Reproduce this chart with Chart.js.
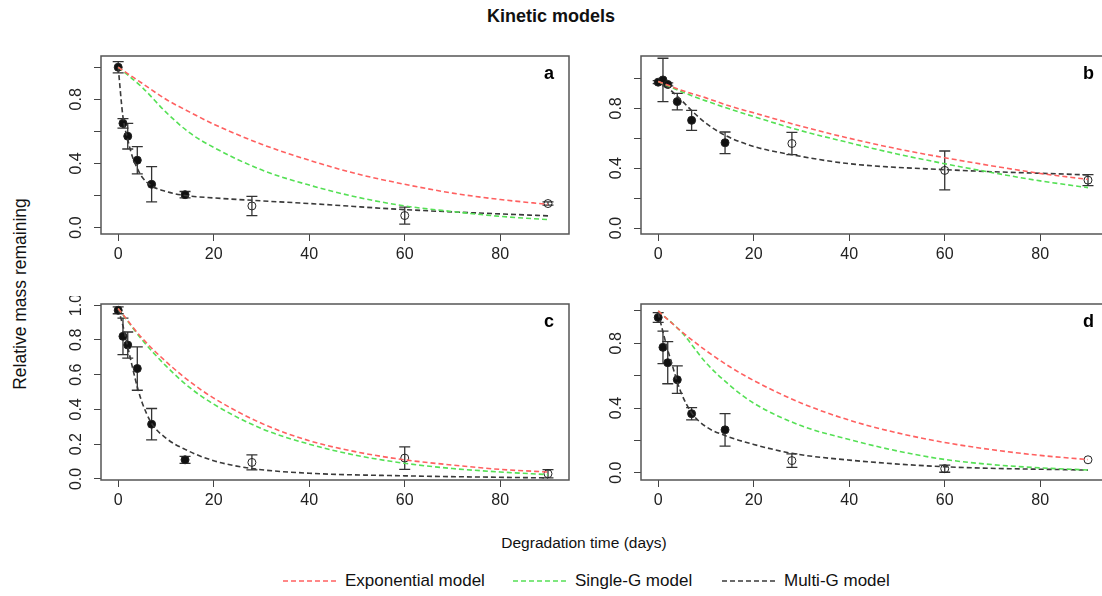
<!DOCTYPE html>
<html>
<head>
<meta charset="utf-8">
<script src="https://cdn.jsdelivr.net/npm/chart.js@4.4.1/dist/chart.umd.min.js"></script>
<style>
  html, body { margin: 0; padding: 0; background: #fff; width: 1102px; height: 596px; overflow: hidden; }
  body { position: relative; font-family: "Liberation Sans", Arial, sans-serif; color: #111; }
  canvas { position: absolute; }
  .txt { position: absolute; white-space: nowrap; transform: translate(-50%, -50%); }
  #title { left: 551px; top: 16px; font-size: 18px; font-weight: bold; }
  #xlab { left: 584px; top: 543px; font-size: 15.5px; }
  #ylab { left: 20px; top: 294px; font-size: 17.5px; transform: translate(-50%, -50%) rotate(-90deg); }
  .leg { position: absolute; top: 571px; height: 20px; display: flex; align-items: center; font-size: 17px; }
  .leg svg { margin-right: 7px; }
</style>
</head>
<body>
<div id="title" class="txt">Kinetic models</div>
<div id="xlab" class="txt">Degradation time (days)</div>
<div id="ylab" class="txt">Relative mass remaining</div>
<div id="legend"></div>

<canvas id="pa"></canvas>
<canvas id="pb"></canvas>
<canvas id="pc"></canvas>
<canvas id="pd"></canvas>

<script>
// observed days and x axis ticks
const obsDays = [0, 1, 2, 4, 7, 14, 28, 60, 90];
const xTicks = [0, 20, 40, 60, 80];
const yTicks = [0, 0.2, 0.4, 0.6, 0.8, 1.0];
const yLabelsSparse = ['0.0', '', '0.4', '', '0.8', ''];
const yLabelsFull = ['0.0', '0.2', '0.4', '0.6', '0.8', '1.0'];

// mean relative mass remaining + error (half bar length)
const obsA = [1.00, 0.65, 0.57, 0.42, 0.27, 0.205, 0.135, 0.075, 0.15];
const errA = [0.035, 0.03, 0.08, 0.085, 0.11, 0.02, 0.06, 0.053, 0.01];
const obsB = [0.975, 0.99, 0.96, 0.845, 0.72, 0.57, 0.565, 0.385, 0.32];
const errB = [0.01, 0.145, 0.01, 0.055, 0.067, 0.072, 0.075, 0.13, 0.037];
const obsC = [0.97, 0.82, 0.77, 0.635, 0.315, 0.11, 0.095, 0.12, 0.03];
const errC = [0.02, 0.105, 0.075, 0.125, 0.09, 0.02, 0.043, 0.065, 0.024];
const obsD = [0.96, 0.775, 0.68, 0.575, 0.365, 0.265, 0.075, 0.025, 0.08];
const errD = [0.03, 0.1, 0.13, 0.085, 0.038, 0.1, 0.042, 0.022, 0];

// fitted curves
const modelDays = [0, 5, 10, 15, 20, 30, 40, 50, 60, 70, 80, 90];
const expA    = [1.00, 0.90, 0.80, 0.72, 0.645, 0.52, 0.42, 0.335, 0.27, 0.215, 0.175, 0.145];
const singleA = [1.00, 0.875, 0.72, 0.59, 0.50, 0.36, 0.265, 0.19, 0.135, 0.10, 0.07, 0.05];
const expB    = [0.98, 0.92, 0.87, 0.815, 0.77, 0.68, 0.60, 0.53, 0.47, 0.415, 0.365, 0.325];
const singleB = [0.98, 0.91, 0.85, 0.795, 0.745, 0.65, 0.57, 0.495, 0.43, 0.37, 0.315, 0.27];
const expC    = [0.98, 0.81, 0.675, 0.56, 0.465, 0.32, 0.22, 0.155, 0.11, 0.08, 0.055, 0.04];
const singleC = [0.98, 0.80, 0.65, 0.525, 0.43, 0.29, 0.20, 0.135, 0.09, 0.06, 0.04, 0.025];
const expD    = [1.00, 0.87, 0.755, 0.655, 0.57, 0.43, 0.325, 0.247, 0.187, 0.142, 0.107, 0.081];
const singleD = [1.00, 0.865, 0.68, 0.54, 0.43, 0.29, 0.205, 0.135, 0.082, 0.05, 0.03, 0.017];

const multiDays = [0, 1, 2, 3, 4, 5, 7, 10, 14, 20, 28, 40, 60, 90];
const multiA = [1.00, 0.69, 0.55, 0.44, 0.37, 0.315, 0.26, 0.225, 0.20, 0.185, 0.17, 0.15, 0.112, 0.073];
const multiB = [0.98, 0.96, 0.94, 0.91, 0.88, 0.85, 0.785, 0.70, 0.62, 0.545, 0.49, 0.43, 0.39, 0.355];
const multiC = [0.98, 0.88, 0.76, 0.64, 0.53, 0.44, 0.32, 0.235, 0.17, 0.105, 0.06, 0.033, 0.018, 0.006];
const multiD = [0.99, 0.87, 0.76, 0.66, 0.56, 0.48, 0.37, 0.285, 0.23, 0.175, 0.12, 0.078, 0.037, 0.016];

const seriesNames = ['Exponential model', 'Single-G model', 'Multi-G model'];
const seriesColors = ['#ff6060', '#55e055', '#3a3a3a'];

const FONT = '"Liberation Sans", Arial, sans-serif';
const Y_AXIS_W = 60, X_AXIS_H = 45, PAD_T = 8, PAD_R = 8;

// error bars, frame and panel letter
const boxPlugin = {
  id: 'rbox',
  beforeDatasetsDraw(chart) {
    const { ctx, scales: { x, y } } = chart;
    const p = chart.options.plugins.rbox;
    ctx.save();
    ctx.strokeStyle = '#333';
    ctx.lineWidth = 1.3;
    p.obs.forEach((v, i) => {
      const e = p.err[i];
      if (!e) return;
      const px = x.getPixelForValue(obsDays[i]);
      const y1 = y.getPixelForValue(v - e), y2 = y.getPixelForValue(v + e);
      ctx.beginPath();
      ctx.moveTo(px, y1); ctx.lineTo(px, y2);
      ctx.moveTo(px - 5.5, y1); ctx.lineTo(px + 5.5, y1);
      ctx.moveTo(px - 5.5, y2); ctx.lineTo(px + 5.5, y2);
      ctx.stroke();
    });
    ctx.restore();
  },
  afterDraw(chart) {
    const { ctx, chartArea: a } = chart;
    const p = chart.options.plugins.rbox;
    ctx.save();
    ctx.strokeStyle = '#555';
    ctx.lineWidth = 1.5;
    ctx.strokeRect(a.left, a.top, a.right - a.left, a.bottom - a.top);
    ctx.fillStyle = '#000';
    ctx.font = 'bold 18px ' + FONT;
    ctx.textAlign = 'right';
    ctx.textBaseline = 'middle';
    ctx.fillText(p.letter, a.right - 15, a.top + 18);
    ctx.restore();
  }
};

// fixed axis sizes so the plot box lands where the reference has it
function fixY(s) { s.width = Y_AXIS_W; s.paddingTop = 0; s.paddingBottom = 0; }
function fixX(s) { s.height = X_AXIS_H; s.paddingLeft = 0; s.paddingRight = 0; }

function makePanel(id, box, yMin, yMax, yLabels, obs, err, expV, singleV, multiV, letter) {
  const cv = document.getElementById(id);
  const w = box.right - box.left, h = box.bottom - box.top;
  cv.width = Math.round(w + Y_AXIS_W + PAD_R);
  cv.height = Math.round(h + PAD_T + X_AXIS_H);
  cv.style.left = (box.left - Y_AXIS_W) + 'px';
  cv.style.top = (box.top - PAD_T) + 'px';

  const curve = (days, vals, i) => ({
    type: 'line',
    label: seriesNames[i],
    data: days.map((d, k) => ({ x: d, y: vals[k] })),
    borderColor: seriesColors[i],
    borderWidth: 1.6,
    borderDash: [5, 3],
    pointRadius: 0,
    cubicInterpolationMode: 'monotone',
    fill: false,
    order: 1 + i
  });

  new Chart(cv, {
    data: {
      datasets: [
        curve(modelDays, expV, 0),
        curve(modelDays, singleV, 1),
        curve(multiDays, multiV, 2),
        {
          type: 'scatter',
          label: 'observed',
          data: obsDays.map((d, k) => ({ x: d, y: obs[k] })),
          pointRadius: 4,
          pointBorderWidth: 1,
          pointBorderColor: '#222',
          pointBackgroundColor: obsDays.map(d => d >= 28 ? 'rgba(0,0,0,0)' : '#111'),
          order: 10
        }
      ]
    },
    options: {
      responsive: false,
      animation: false,
      events: [],
      layout: { padding: { top: PAD_T, right: PAD_R, left: 0, bottom: 0 } },
      plugins: {
        legend: { display: false },
        tooltip: { enabled: false },
        rbox: { obs, err, letter }
      },
      scales: {
        x: {
          type: 'linear', min: -3.6, max: 94.4,
          afterBuildTicks: s => { s.ticks = xTicks.map(v => ({ value: v })); },
          afterFit: fixX,
          border: { display: false },
          grid: { drawOnChartArea: false, drawTicks: true, tickLength: 7, color: '#444' },
          ticks: { autoSkip: false, maxRotation: 0, padding: 4, color: '#222', font: { family: FONT, size: 16 } }
        },
        y: {
          type: 'linear', min: yMin, max: yMax,
          afterBuildTicks: s => { s.ticks = yTicks.map(v => ({ value: v })); },
          afterFit: fixY,
          border: { display: false },
          grid: { drawOnChartArea: false, drawTicks: true, tickLength: 7, color: '#444' },
          ticks: {
            autoSkip: false, minRotation: 90, maxRotation: 90, crossAlign: 'center', padding: 6,
            color: '#222', font: { family: FONT, size: 16 },
            callback: (v, i) => yLabels[i]
          }
        }
      }
    },
    plugins: [boxPlugin]
  });
}

makePanel('pa', { left: 100.5, top: 55.8, right: 568, bottom: 233.5 }, -0.04, 1.07, yLabelsSparse, obsA, errA, expA, singleA, multiA, 'a');
makePanel('pb', { left: 641, top: 55.8, right: 1108.5, bottom: 233.5 }, -0.04, 1.15, yLabelsSparse, obsB, errB, expB, singleB, multiB, 'b');
makePanel('pc', { left: 100.5, top: 304, right: 568, bottom: 479.5 }, -0.006, 1.006, yLabelsFull, obsC, errC, expC, singleC, multiC, 'c');
makePanel('pd', { left: 641, top: 304, right: 1108.5, bottom: 479.5 }, -0.045, 1.043, yLabelsSparse, obsD, errD, expD, singleD, multiD, 'd');

// legend along the bottom
const legendX = [283, 513, 722];
const legend = document.getElementById('legend');
seriesNames.forEach((name, i) => {
  const item = document.createElement('div');
  item.className = 'leg';
  item.style.left = legendX[i] + 'px';
  item.innerHTML = '<svg width="55" height="4"><line x1="0" y1="2" x2="55" y2="2" stroke="' + seriesColors[i] +
    '" stroke-width="1.6" stroke-dasharray="5,3"/></svg><span>' + name + '</span>';
  legend.appendChild(item);
});
</script>
</body>
</html>
